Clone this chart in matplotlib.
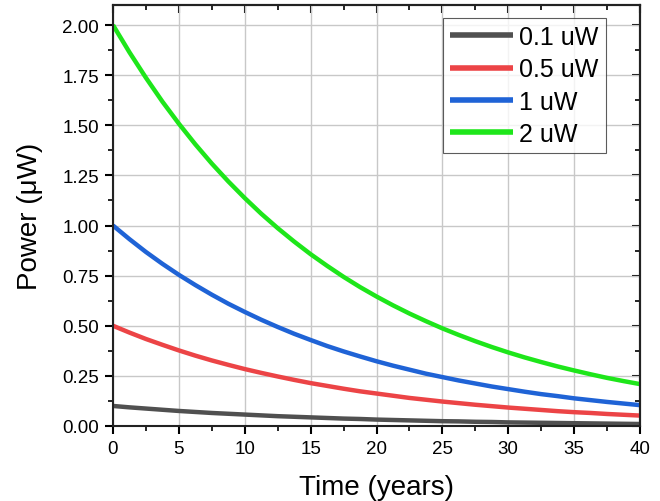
import matplotlib
matplotlib.use("Agg")
import matplotlib.pyplot as plt
from matplotlib.ticker import MultipleLocator

plt.rcParams['font.family'] = ['Liberation Sans', 'DejaVu Sans']

# values, every 1.25 years
years = [0, 1.25, 2.5, 3.75, 5, 6.25, 7.5, 8.75, 10, 11.25, 12.5, 13.75, 15, 16.25,
         17.5, 18.75, 20, 21.25, 22.5, 23.75, 25, 26.25, 27.5, 28.75, 30, 31.25,
         32.5, 33.75, 35, 36.25, 37.5, 38.75, 40]
p_1 = [1.000, 0.932, 0.868, 0.809, 0.754, 0.703, 0.655, 0.610, 0.569, 0.530,
       0.494, 0.460, 0.429, 0.399, 0.372, 0.347, 0.323, 0.301, 0.281, 0.261,
       0.244, 0.227, 0.212, 0.197, 0.184, 0.171, 0.159, 0.149, 0.138, 0.129,
       0.120, 0.112, 0.104]
p_2 = [2.000, 1.864, 1.737, 1.618, 1.508, 1.405, 1.309, 1.220, 1.137, 1.059,
       0.987, 0.920, 0.857, 0.799, 0.744, 0.693, 0.646, 0.602, 0.561, 0.523,
       0.487, 0.454, 0.423, 0.394, 0.367, 0.342, 0.319, 0.297, 0.277, 0.258,
       0.240, 0.224, 0.209]
p_05 = [0.500, 0.466, 0.434, 0.405, 0.377, 0.351, 0.327, 0.305, 0.284, 0.265,
        0.247, 0.230, 0.214, 0.200, 0.186, 0.173, 0.162, 0.151, 0.140, 0.131,
        0.122, 0.114, 0.106, 0.099, 0.092, 0.086, 0.080, 0.074, 0.069, 0.065,
        0.060, 0.056, 0.052]
p_01 = [0.100, 0.093, 0.087, 0.081, 0.075, 0.070, 0.065, 0.061, 0.057, 0.053,
        0.049, 0.046, 0.043, 0.040, 0.037, 0.035, 0.032, 0.030, 0.028, 0.026,
        0.024, 0.023, 0.021, 0.020, 0.018, 0.017, 0.016, 0.015, 0.014, 0.013,
        0.012, 0.011, 0.010]
labels = ['0.1 uW', '0.5 uW', '1 uW', '2 uW']
colors = ['#505050', '#ec4446', '#1f63d6', '#1ee61a']

fig = plt.figure(figsize=(6.6, 5.02), dpi=100)
ax = fig.add_axes([113 / 660, 75 / 502, 527 / 660, 421 / 502])

for ys, lab, c in zip([p_01, p_05, p_1, p_2], labels, colors):
    ax.plot(years, ys, color=c, lw=3.2, label=lab, solid_capstyle='butt',
            solid_joinstyle='round')

ax.set_xlim(0, 40)
ax.set_ylim(0, 2.1)
ax.xaxis.set_major_locator(MultipleLocator(5))
ax.xaxis.set_minor_locator(MultipleLocator(2.5))
ax.yaxis.set_major_locator(MultipleLocator(0.25))
ax.yaxis.set_minor_locator(MultipleLocator(0.125))
ax.yaxis.set_major_formatter(plt.FuncFormatter(lambda v, p: f"{v:.2f}"))
ax.grid(True, which='major', color='#c8c8c8', lw=1)
ax.set_axisbelow(True)

for s in ax.spines.values():
    s.set_linewidth(1.5)
    s.set_color('#222222')
ax.tick_params(which='major', direction='out', length=6, width=1.5, labelsize=13.5, pad=4)
ax.tick_params(which='minor', direction='out', length=3.5, width=1.2)

# mirror ticks on top / right, pointing inward
top = ax.secondary_xaxis('top')
top.xaxis.set_major_locator(MultipleLocator(5))
top.xaxis.set_minor_locator(MultipleLocator(2.5))
top.tick_params(which='major', direction='in', length=6, width=1.5, labeltop=False)
top.tick_params(which='minor', direction='in', length=3.5, width=1.2)
right = ax.secondary_yaxis('right')
right.yaxis.set_major_locator(MultipleLocator(0.25))
right.yaxis.set_minor_locator(MultipleLocator(0.125))
right.tick_params(which='major', direction='in', length=6, width=1.5, labelright=False)
right.tick_params(which='minor', direction='in', length=3.5, width=1.2)
for sa in (top, right):
    for s in sa.spines.values():
        s.set_linewidth(1.5)

ax.set_xlabel('Time (years)', fontsize=20, labelpad=12)
ax.set_ylabel('Power (\u03bcW)', fontsize=20, labelpad=14)

leg = ax.legend(loc='upper right', bbox_to_anchor=(0.935, 0.97), fontsize=18,
                handlelength=2.5, handletextpad=0.25, labelspacing=0.33,
                borderpad=0.3, borderaxespad=0, frameon=True, fancybox=False)
leg.get_frame().set_edgecolor('#333333')
leg.get_frame().set_linewidth(0.8)
for h in leg.get_lines():
    h.set_linewidth(4)

fig.savefig('out.png', dpi=100)
